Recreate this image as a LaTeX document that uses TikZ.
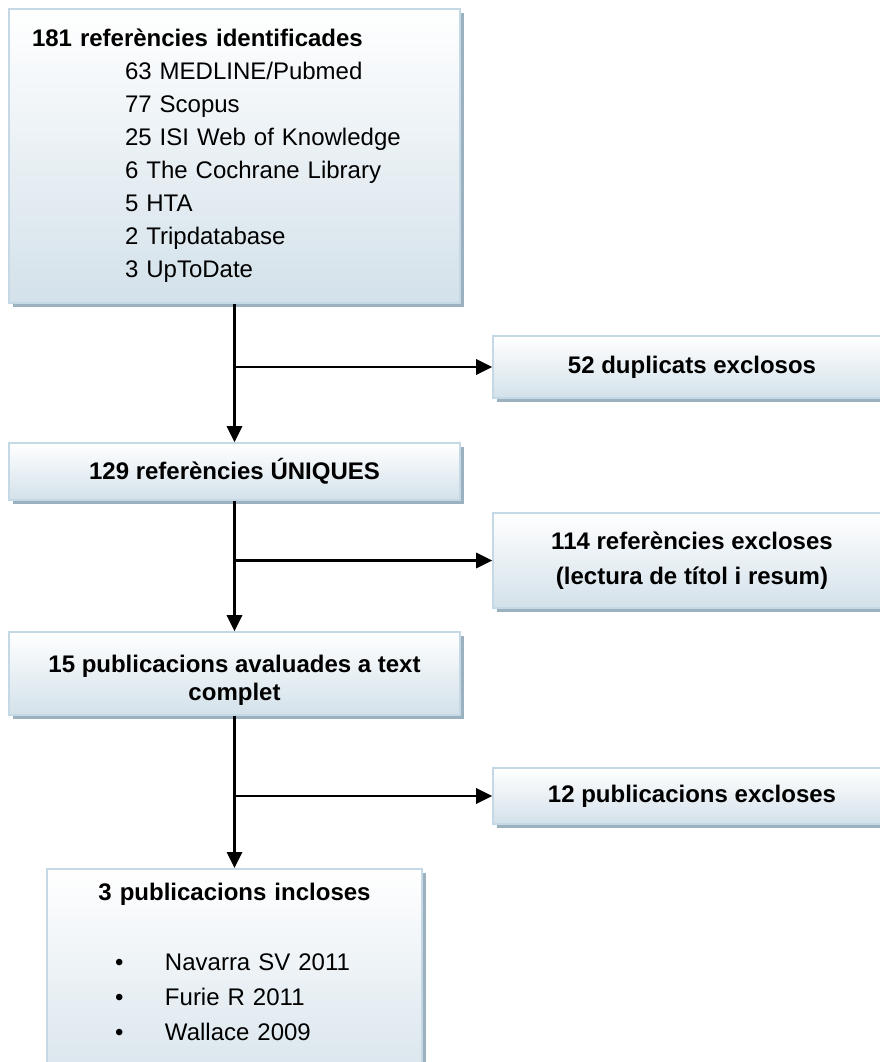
\documentclass[tikz,border=0pt]{standalone}
\usepackage{fontspec}
\setmainfont{Liberation Sans}
\usepackage{tikz}
\usetikzlibrary{positioning,arrows.meta,shadows}
\definecolor{bxline}{HTML}{C4D8E6}
\definecolor{bxbot}{HTML}{D3E1EA}
\definecolor{bxshd}{HTML}{9CB1C0}
\tikzset{
  bx/.style={rectangle, draw=bxline, line width=1.2pt, top color=white, bottom color=bxbot,
    drop shadow={shadow xshift=3pt, shadow yshift=-3pt, fill=bxshd, opacity=1},
    font=\fontsize{18}{20.7}\selectfont, inner sep=0pt, align=center},
  lbox/.style={bx, minimum width=338.25pt},
  rbox/.style={bx, minimum width=298.5pt, font=\fontsize{18}{26.25}\selectfont\bfseries},
  ar/.style={draw=black, line width=1.6pt, -{Triangle[length=12pt,width=11.5pt]}},
  flow/.style={x=0.75pt, y=-0.75pt}
}

\begin{document}
\begin{tikzpicture}[flow]
  \useasboundingbox (0,0) rectangle (880,1062);
  \node[lbox, minimum height=220.5pt, text width=303.75pt, align=left,
    font=\fontsize{18}{24.75}\selectfont] (ids) at (234.5,156) {%
    \textbf{181 referències identificades}\\
    \hspace*{69.75pt}63 MEDLINE/Pubmed\\
    \hspace*{69.75pt}77 Scopus\\
    \hspace*{69.75pt}25 ISI Web of Knowledge\\
    \hspace*{69.75pt}6 The Cochrane Library\\
    \hspace*{69.75pt}5 HTA\\
    \hspace*{69.75pt}2 Tripdatabase\\
    \hspace*{69.75pt}3 UpToDate};
  \node[lbox, minimum height=42.75pt, font=\fontsize{18}{20.7}\selectfont\bfseries] (uniq) at (234.5,471.5) {129 referències ÚNIQUES};
  \node[lbox, minimum height=62.25pt, font=\fontsize{18}{20.7}\selectfont\bfseries] (full) at (234.5,673.5)
    {\rule{0pt}{22.9pt}15 publicacions avaluades a text\\complet};
  \node[bx, anchor=north, text width=281.25pt, align=left, inner ysep=10.9pt,
    font=\fontsize{18}{26.25}\selectfont] (incl) at (234.5,868) {%
    \makebox[281.25pt]{\textbf{3 publicacions incloses}}\\[26.25pt]
    \hspace*{51pt}\makebox[37.5pt][l]{\textbullet}Navarra SV 2011\\
    \hspace*{51pt}\makebox[37.5pt][l]{\textbullet}Furie R 2011\\
    \hspace*{51pt}\makebox[37.5pt][l]{\textbullet}Wallace 2009\rule[-40pt]{0pt}{0pt}};

  \node[rbox, minimum height=46.5pt] (dup) at (692,367) {52 duplicats exclosos};
  \node[rbox, minimum height=71.25pt] (excl) at (692,560.5) {114 referències excloses\\(lectura de títol i resum)};
  \node[rbox, minimum height=42pt] (pubex) at (692,796) {12 publicacions excloses};

  \coordinate (b1) at (ids.south |- dup.west);
  \coordinate (b2) at (uniq.south |- excl.west);
  \coordinate (b3) at (full.south |- pubex.west);
  \draw[ar] (ids.south) -- (uniq.north);
  \draw[ar] (uniq.south) -- (full.north);
  \draw[ar] (full.south) -- (incl.north);
  \draw[ar] (b1) -- (dup.west);
  \draw[ar] (b2) -- (excl.west);
  \draw[ar] (b3) -- (pubex.west);
\end{tikzpicture}
\end{document}
